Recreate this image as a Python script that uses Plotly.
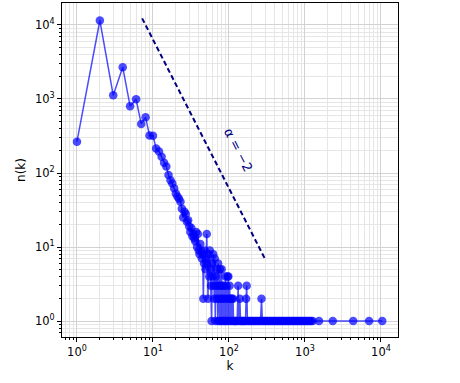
import plotly.graph_objects as go

# degree distribution: k -> number of nodes with degree k
degree_k = [1, 2, 3, 4, 5, 6, 7, 8, 9, 10,
            11, 12, 13, 14, 15, 16, 17, 18, 19, 20,
            21, 22, 23, 24, 25, 26, 27, 28, 29, 30,
            31, 32, 33, 34, 35, 36, 37, 38, 39, 40,
            41, 42, 43, 44, 45, 46, 47, 48, 49, 50,
            51, 52, 53, 54, 55, 56, 57, 58, 59, 60,
            61, 62, 63, 64, 65, 66, 67, 68, 69, 70,
            71, 72, 73, 74, 75, 76, 77, 78, 79, 80,
            81, 82, 84, 85, 86, 88, 89, 90, 91, 93,
            95, 96, 97, 98, 100, 102, 103, 105, 107, 109,
            110, 113, 115, 118, 121, 124, 128, 132, 135, 139,
            142, 146, 150, 155, 160, 165, 168, 171, 175, 182,
            190, 197, 205, 213, 222, 230, 240, 250, 260, 268,
            275, 285, 296, 308, 320, 333, 346, 360, 375, 390,
            405, 420, 437, 455, 473, 492, 511, 531, 552, 574,
            597, 620, 645, 671, 698, 725, 754, 784, 815, 848,
            881, 916, 953, 990, 1030, 1070, 1115, 1160, 1205, 1260,
            1530, 2320, 4310, 6970, 10400]
degree_n = [265, 11500, 1120, 2690, 800, 990, 460, 565, 320, 318,
            215, 195, 166, 138, 122, 94, 80, 72, 62, 53,
            48, 45, 41, 33, 25, 30, 28, 22, 23, 19,
            16, 18, 14, 15, 13, 12, 16, 10, 15, 9,
            8, 11, 9, 7, 8, 2, 6, 9, 5, 7,
            15, 6, 2, 8, 4, 9, 5, 3, 1, 6,
            4, 8, 3, 2, 7, 1, 4, 3, 2, 5,
            1, 6, 3, 2, 1, 5, 3, 1, 2, 5,
            1, 3, 2, 1, 3, 1, 2, 4, 1, 3,
            1, 4, 2, 4, 1, 3, 2, 1, 2, 2,
            1, 2, 1, 1, 1, 1, 1, 3, 1, 2,
            1, 1, 1, 1, 1, 1, 2, 3, 1, 1,
            1, 1, 1, 1, 1, 1, 1, 1, 1, 2,
            1, 1, 1, 1, 1, 1, 1, 1, 1, 1,
            1, 1, 1, 1, 1, 1, 1, 1, 1, 1,
            1, 1, 1, 1, 1, 1, 1, 1, 1, 1,
            1, 1, 1, 1, 1, 1, 1, 1, 1, 1,
            1, 1, 1, 1, 1]

# reference power law, alpha = -2
ref_k = [7.2, 300]
ref_n = [12300, 6.8]

tick_vals = [1, 10, 100, 1000, 10000]
tick_text = ["10<sup>0</sup>", "10<sup>1</sup>", "10<sup>2</sup>",
             "10<sup>3</sup>", "10<sup>4</sup>"]

fig = go.Figure()
fig.add_trace(go.Scatter(x=degree_k, y=degree_n, mode="lines+markers",
                         line=dict(color="rgba(0,0,255,0.7)", width=1.5),
                         marker=dict(color="rgba(0,0,255,0.7)", size=8.5,
                                     line=dict(width=0))))
fig.add_trace(go.Scatter(x=ref_k, y=ref_n, mode="lines",
                         line=dict(color="#000080", width=2, dash="5px,3px")))

fig.add_annotation(x=2.13, y=2.31, text="α = −2", showarrow=False,
                   textangle=63, font=dict(size=13, color="#000080"))

axis_style = dict(type="log", showline=True, linecolor="black", linewidth=1,
                  mirror=True, ticks="outside", ticklen=4, tickcolor="black",
                  tickvals=tick_vals, ticktext=tick_text,
                  showgrid=True, gridcolor="#d2d2d2", gridwidth=1,
                  zeroline=False, automargin=False,
                  tickfont=dict(size=11.5, color="black"),
                  minor=dict(ticks="outside", ticklen=2, tickcolor="black",
                             dtick="D1", showgrid=True, gridcolor="#e6e6e6"))

fig.update_xaxes(range=[-0.197, 4.224], title=dict(text="k", font=dict(size=12), standoff=2),
                 **axis_style)
fig.update_yaxes(range=[-0.216, 4.297], title=dict(text="n(k)", font=dict(size=12), standoff=6),
                 **axis_style)

fig.update_layout(width=460, height=383, showlegend=False,
                  margin=dict(l=62, r=62, t=3, b=46),
                  plot_bgcolor="white", paper_bgcolor="white",
                  font=dict(family="DejaVu Sans", color="black"))

# page body has a default 8px margin; drop it so the figure sits at the corner
fig.write_html("out.html", config={"displayModeBar": False},
               post_script="document.body.style.margin='0';")
